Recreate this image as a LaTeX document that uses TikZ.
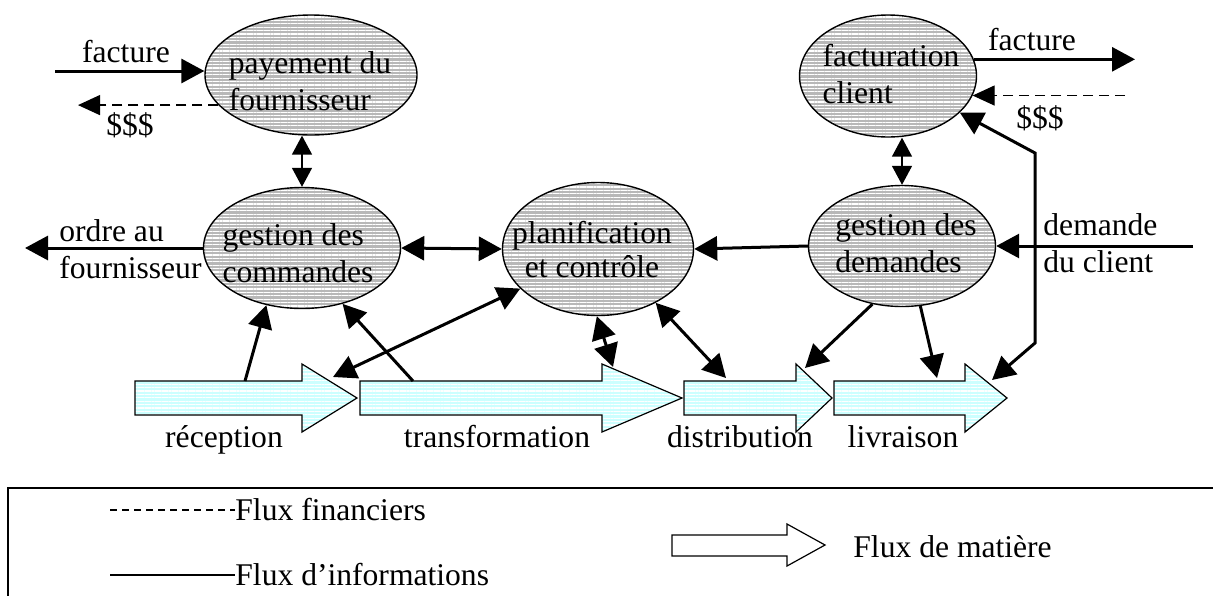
\documentclass[tikz,border=0pt]{standalone}
\usepackage{fontspec}
\setmainfont{Liberation Serif}
\usetikzlibrary{shapes.geometric,arrows.meta,patterns.meta}
\definecolor{procgray}{RGB}{184,184,184}
\definecolor{flowcyan}{RGB}{204,255,255}
\newcommand\lblfont{\fontsize{15.8}{18.5}\selectfont}
\tikzset{
  proc/.style={ellipse, draw, line width=0.7pt, inner sep=0pt,
    preaction={fill=procgray},
    pattern={Lines[distance=1.7pt,line width=0.65pt]}, pattern color=white},
  matter/.style={draw, line width=0.6pt, preaction={fill=flowcyan},
    pattern={Lines[distance=1.7pt,line width=0.55pt]}, pattern color=white},
  lbl/.style={font=\lblfont, inner sep=0pt},
  info/.style={line width=1.5pt, -{Triangle[length=11.5pt,width=12pt]}},
  info both/.style={line width=1.5pt,
    {Triangle[length=11.5pt,width=12pt]}-{Triangle[length=11.5pt,width=12pt]}},
  thin both/.style={line width=0.75pt,
    {Triangle[length=9.5pt,width=10pt]}-{Triangle[length=9.5pt,width=10pt]}},
  money/.style={line width=0.6pt, dash pattern=on 5pt off 3pt,
    -{Triangle[length=11pt,width=10pt]}},
}

\begin{document}
\begin{tikzpicture}[x=0.5pt, y=-0.5pt]
  \useasboundingbox (0,0) rectangle (1213,595);

  % processes
  \node[proc, minimum width=106pt, minimum height=60pt] (pay) at (311,75) {};
  \node[proc, minimum width=98.5pt, minimum height=60.5pt] (cmd) at (302,248) {};
  \node[proc, minimum width=95.5pt, minimum height=66.5pt] (plan) at (598,249) {};
  \node[proc, minimum width=93.5pt, minimum height=60.5pt] (dem) at (902,246) {};
  \node[proc, minimum width=88.5pt, minimum height=61pt] (fact) at (888,76) {};

  \node[lbl, align=left] (pay-txt) at (310,81) {payement du\\fournisseur};
  \node[lbl, align=left] (cmd-txt) at (298,253) {gestion des\\commandes};
  \node[lbl, align=center, font=\fontsize{15.8}{17}\selectfont] (plan-txt) at (592,250) {planification\\et contrôle};
  \node[lbl, align=left] (dem-txt) at (906,243) {gestion des\\demandes};
  \node[lbl, align=left] (fact-txt) at (891,74) {facturation\\client};

  % material flows
  \foreach \xa/\xb/\xc/\name/\xl/\txt in {135/302/357/recep/224/réception,
      360/602/682/transf/497/transformation, 684/796/832/distr/740/distribution,
      834/965/1007/livr/903/livraison} {
    \draw[matter] (\xa,381) -- (\xb,381) -- (\xb,364) -- (\xc,398)
      -- (\xb,432) -- (\xb,415) -- (\xa,415) -- cycle;
    \node[lbl, anchor=base] (\name-lbl) at (\xl,447) {\txt};
  }

  \coordinate (recep-up) at (245,381);
  \coordinate (recep-head) at (333,377);
  \coordinate (transf-up) at (413,381);
  \coordinate (transf-head) at (613,367);
  \coordinate (distr-in) at (726,378);
  \coordinate (distr-head) at (805,368);
  \coordinate (livr-in) at (937,378);
  \coordinate (livr-head) at (992,380);
  \coordinate (loop-a) at (1035,343);
  \coordinate (loop-b) at (1035,153);

  % outside ends
  \coordinate (fac-in) at (55,71);
  \coordinate (pay-out) at (78,105);
  \coordinate (ordre) at (25,248);
  \coordinate (client) at (1193,246);
  \coordinate (fac-out) at (1135,59);
  \coordinate (pay-in) at (1125,96);

  % information flows
  \draw[info] (fac-in) -- (fac-in -| pay.west);
  \draw[money] (pay.198) -- (pay.198 -| pay-out);
  \draw[thin both] (cmd.north |- pay.south) -- (cmd.north);
  \draw[info] (cmd.west) -- (ordre);
  \draw[info both] (cmd.east) -- (plan.west);
  \draw[info] (dem.west) -- (plan.east);
  \draw[info] (client) -- (dem.east);
  \draw[thin both] (dem.north |- fact.south) -- (dem.north);
  \draw[info] (fact.11) -- (fact.11 -| fac-out);
  \draw[money] (fact.347 -| pay-in) -- (fact.347);

  \draw[info] (recep-up) -- (cmd.238);
  \draw[info] (transf-up) -- (cmd.306);
  \draw[info both] (recep-head) -- (plan.207);
  \draw[info both] (plan.269) -- (transf-head);
  \draw[info both] (plan.317) -- (distr-in);
  \draw[info] (dem.243) -- (distr-head);
  \draw[info] (dem.287) -- (livr-in);
  \draw[info both] (livr-head) -- (loop-a) -- (loop-b) -- (fact.333);

  % labels
  \node[lbl, anchor=base] (fac-in-lbl) at (126,62) {facture};
  \node[lbl, anchor=base] (pay-out-lbl) at (130,135) {\$\$\$};
  \node[lbl, anchor=west, align=left] (ordre-lbl) at (59,249) {ordre au\\fournisseur};
  \node[lbl, anchor=west, align=left] (client-lbl) at (1043,243) {demande\\du client};
  \node[lbl, anchor=base] (fac-out-lbl) at (1032,50) {facture};
  \node[lbl, anchor=base] (pay-in-lbl) at (1040,128) {\$\$\$};

  % legend
  \draw[line width=0.8pt] (8,488) rectangle (1230,610);
  \node[lbl, anchor=base west] (leg-fin) at (235,520) {Flux financiers};
  \node[lbl, anchor=base west] (leg-info) at (235,585) {Flux d’informations};
  \node[lbl, anchor=base west] (leg-mat) at (853,557) {Flux de matière};
  \coordinate (leg-fin-a) at (110,510);
  \coordinate (leg-info-a) at (110,575);
  \draw[line width=0.6pt, dash pattern=on 3.5pt off 2.5pt] (leg-fin-a) -- (leg-fin-a -| leg-fin.west);
  \draw[line width=0.6pt] (leg-info-a) -- (leg-info-a -| leg-info.west);
  \draw[line width=0.6pt, fill=white] (672,535) -- (787,535) -- (787,524) -- (825,545)
    -- (787,566) -- (787,556) -- (672,556) -- cycle;
\end{tikzpicture}
\end{document}
